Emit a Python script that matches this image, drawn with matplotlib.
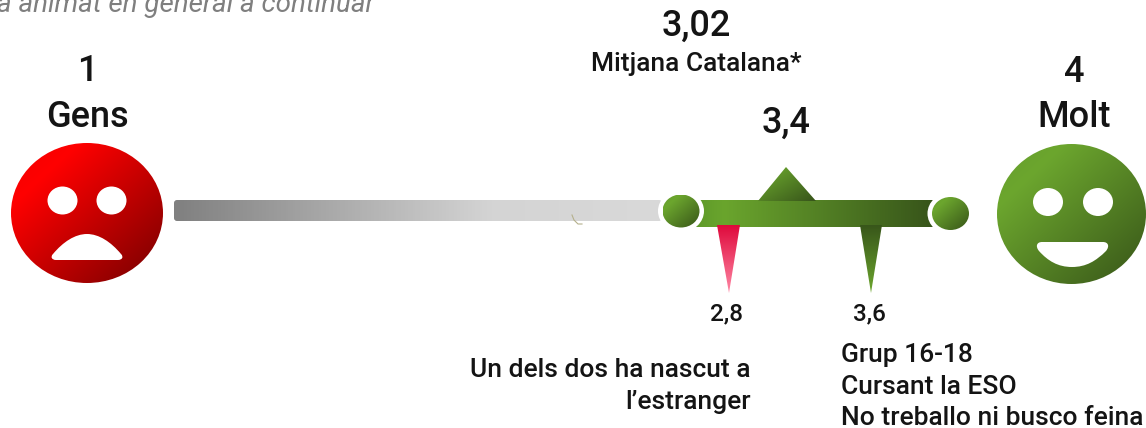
import numpy as np
import matplotlib
matplotlib.use('Agg')
import matplotlib.pyplot as plt
from matplotlib.patches import Ellipse, Polygon, PathPatch, FancyBboxPatch
from matplotlib.path import Path
from matplotlib.colors import LinearSegmentedColormap

plt.rcParams['font.family'] = ['Roboto', 'DejaVu Sans']

# data
scale_values = ['1', '4']
scale_names = ['Gens', 'Molt']
catalan_mean = '3,02'
catalan_label = 'Mitjana Catalana*'
group_mean = '3,4'
low_value = '2,8'
high_value = '3,6'
low_labels = ['Un dels dos ha nascut a', 'l\u2019estranger']
high_labels = ['Grup 16-18', 'Cursant la ESO', 'No treballo ni busco feina']
heading = 'a animat en general a continuar'

W, H = 1146, 428
fig = plt.figure(figsize=(W / 100, H / 100), dpi=100)
ax = fig.add_axes([0, 0, 1, 1])
ax.set_xlim(0, W)
ax.set_ylim(H, 0)
ax.axis('off')

red = LinearSegmentedColormap.from_list('r', [(0, '#f00000'), (0.22, '#ff0000'), (0.85, '#900000'), (1, '#7a0000')])
green = LinearSegmentedColormap.from_list('g', [(0, '#639c2c'), (0.22, '#6ca62e'), (0.9, '#3e5f1b'), (1, '#38561a')])
greenbar = LinearSegmentedColormap.from_list('gb', [(0, '#5f9a2a'), (0.12, '#6aa52d'), (1, '#37541a')])
greybar = LinearSegmentedColormap.from_list('gr', [(0, '#808080'), (0.65, '#d4d4d4'), (1, '#d9d9d9')])
pink = LinearSegmentedColormap.from_list('p', ['#df0a3c', '#ff86a4'])
darkgreen = LinearSegmentedColormap.from_list('dg', ['#38561a', '#6ca62e'])


def fill(patch, cmap, box, mode):
    # gradient image clipped to the patch
    x0, x1, y0, y1 = box
    xx, yy = np.meshgrid(np.linspace(0, 1, 200), np.linspace(0, 1, 200))
    if mode == 'h':
        g = xx
    elif mode == 'v':
        g = yy
    else:
        g = (xx + yy) / 2
    patch.set_facecolor('none')
    patch.set_edgecolor('none')
    ax.add_patch(patch)
    im = ax.imshow(g, cmap=cmap, extent=(x0, x1, y1, y0), aspect='auto', vmin=0, vmax=1, zorder=patch.get_zorder())
    im.set_clip_path(patch)


def blob(cx, cy, rx, ry, cmap, z=3):
    fill(Ellipse((cx, cy), 2 * rx, 2 * ry, zorder=z), cmap, (cx - rx, cx + rx, cy - ry, cy + ry), 'd')


# grey part of the bar
fill(FancyBboxPatch((174, 200), 488, 21, boxstyle='round,pad=0,rounding_size=3', zorder=2), greybar, (174, 662, 200, 221), 'h')

# green part and the triangles
fill(Polygon([(695, 200), (935, 200), (935, 227), (695, 227)], zorder=2), greenbar, (695, 935, 200, 227), 'h')
fill(Polygon([(758, 201), (786, 167), (816, 201)], zorder=2), greenbar, (758, 816, 167, 201), 'd')
fill(Polygon([(717, 225), (740, 225), (729, 293)], zorder=2), pink, (717, 740, 225, 293), 'v')
fill(Polygon([(860, 225), (882, 225), (871, 293)], zorder=2), darkgreen, (860, 882, 225, 293), 'v')

# end caps of the bar
for cx, cy in [(681, 211), (950.5, 213.5)]:
    ax.add_patch(Ellipse((cx, cy), 46, 42, fc='white', ec='none', zorder=3))
    blob(cx, cy, 18.5, 16.5, green, z=4)

# faces
blob(87, 213, 76, 70, red)
blob(1071.5, 214, 74.5, 70, green)
for cx, cy in [(62.5, 200.5), (111.5, 200.5), (1048, 202), (1098, 202)]:
    ax.add_patch(Ellipse((cx, cy), 30, 28, fc='white', ec='none', zorder=5))

sad = Path([(56, 260), (52, 260), (50, 257), (53, 254), (63, 242), (75, 234), (87, 234),
            (99, 234), (111, 242), (121, 254), (124, 257), (122, 260), (118, 260), (56, 260)],
           [1, 4, 4, 4, 4, 4, 4, 4, 4, 4, 4, 4, 4, 2])
ax.add_patch(PathPatch(sad, fc='white', ec='none', zorder=5))
happy = Path([(1042, 242), (1103, 242), (1108, 242), (1110, 246), (1106, 251), (1096, 261), (1086, 267), (1072, 267),
              (1058, 267), (1048, 261), (1039, 251), (1035, 246), (1037, 242), (1042, 242)],
             [1, 2, 4, 4, 4, 4, 4, 4, 4, 4, 4, 4, 4, 4])
ax.add_patch(PathPatch(happy, fc='white', ec='none', zorder=5))

# small stray arc on the grey bar
ax.plot([572, 574, 578, 582], [215, 220, 224, 224], color='#b5b08c', lw=0.8, zorder=3)

# text
dark = '#141414'
big = 26
mid = 19
ax.text(-3, 12, heading, fontsize=20, style='italic', color='#7f7f7f', ha='left', va='baseline')
ax.text(696, 36, catalan_mean, fontsize=big, color=dark, ha='center', va='baseline', weight='medium')
ax.text(696, 71, catalan_label, fontsize=mid, color=dark, ha='center', va='baseline', weight='medium')
ax.text(786, 133, group_mean, fontsize=big, color=dark, ha='center', va='baseline', weight='medium')
ax.text(87, 81, scale_values[0], fontsize=big, color=dark, ha='center', va='baseline', weight='medium')
ax.text(87, 127, scale_names[0], fontsize=big, color=dark, ha='center', va='baseline', weight='medium')
ax.text(1074, 82, scale_values[1], fontsize=big, color=dark, ha='center', va='baseline', weight='medium')
ax.text(1074, 127, scale_names[1], fontsize=big, color=dark, ha='center', va='baseline', weight='medium')
ax.text(726.5, 320, low_value, fontsize=17.5, color=dark, ha='center', va='baseline', weight='medium')
ax.text(869, 320, high_value, fontsize=17.5, color=dark, ha='center', va='baseline', weight='medium')
for lab, y in zip(low_labels, [377, 409]):
    ax.text(751, y, lab, fontsize=mid, color=dark, ha='right', va='baseline', weight='medium')
for lab, y in zip(high_labels, [362, 394, 425]):
    ax.text(841, y, lab, fontsize=mid, color=dark, ha='left', va='baseline', weight='medium')

fig.savefig('out.png', dpi=100)
